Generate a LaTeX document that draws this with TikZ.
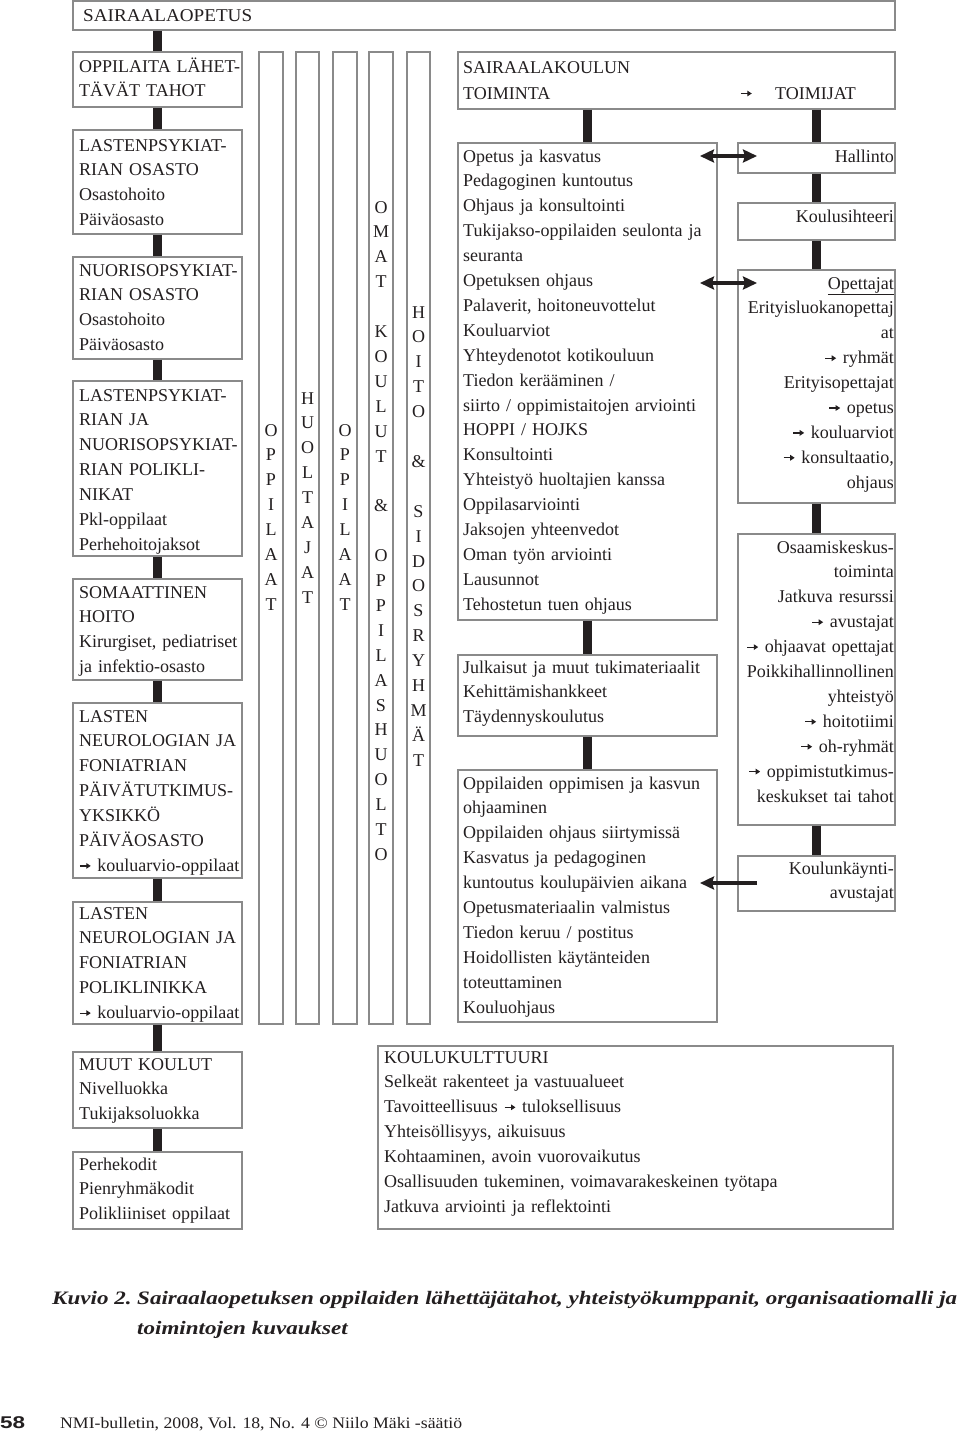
\documentclass[tikz,border=0pt]{standalone}
\usepackage{fontspec}
\setmainfont{Liberation Serif}
\newfontfamily\sansf{Liberation Sans}
\usetikzlibrary{arrows.meta,fit,calc}
\definecolor{bord}{HTML}{8A8A8A}
\definecolor{ink}{HTML}{231F20}
\newcommand\bodyfont{\fontsize{18}{24.9}\selectfont}
\newcommand\capfont{\fontsize{19}{19}\selectfont\bfseries\itshape}
\newcommand\rarr{\tikz[baseline=0pt]\draw[draw=ink,line width=1.2pt,-{Triangle[length=4.5pt,width=5.5pt]}](0pt,5.5pt)--(11pt,5.5pt);}
\newsavebox\capbox
\tikzset{
 boxst/.style={draw=bord, line width=1.1pt, inner sep=0pt},
 lt/.style={inner sep=0pt, text width=260pt, align=left, font=\bodyfont, text=ink, anchor=base west},
 rt/.style={inner sep=0pt, text width=200pt, align=right, font=\bodyfont, text=ink, anchor=base east},
 ct/.style={inner sep=0pt, text width=22pt, align=center, font=\bodyfont, text=ink, anchor=base},
 conn/.style={draw=ink, line width=8.5pt},
 dblarrow/.style={draw=ink, line width=4pt, {Stealth[length=14pt,width=13pt,inset=2pt]}-{Stealth[length=14pt,width=13pt,inset=2pt]}},
 onearrow/.style={draw=ink, line width=4pt, -{Stealth[length=14pt,width=13pt,inset=2pt]}},
}
\newcommand\mkbox[5]{\path (#2,#3) coordinate (#1-nw) (#4,#5) coordinate (#1-se); \node[boxst, fit=(#1-nw)(#1-se)] (#1) {};}
\begin{document}
\sbox\capbox{\capfont Sairaalaopetuksen oppilaiden lähettäjätahot, yhteistyökumppanit, organisaatiomalli ja}%
\begin{tikzpicture}[x=1pt,y=-1pt]
\fill[white] (0,0) rectangle (960,1438);
\useasboundingbox (0,0) rectangle (960,1438);
% boxes
\mkbox{top}{73}{1}{895}{30}
\mkbox{opp}{73}{52}{242}{107}
\mkbox{lp}{73}{130}{242}{234}
\mkbox{np}{73}{257}{242}{359}
\mkbox{lpn}{73}{381}{242}{556}
\mkbox{som}{73}{579}{242}{680}
\mkbox{lnp}{73}{703}{242}{878}
\mkbox{lnpk}{73}{902}{242}{1024}
\mkbox{muut}{73}{1052}{242}{1128}
\mkbox{perhe}{73}{1152}{242}{1229}
\mkbox{c1}{259}{52}{283}{1024}
\mkbox{c2}{296}{52}{319}{1024}
\mkbox{c3}{333}{52}{357}{1024}
\mkbox{c4}{369}{52}{393}{1024}
\mkbox{c5}{407}{52}{430}{1024}
\mkbox{sk}{458}{52}{895}{109}
\mkbox{op}{458}{143}{717}{620}
\mkbox{julk}{458}{655}{717}{736}
\mkbox{oppk}{458}{770}{717}{1022}
\mkbox{hall}{738}{143}{895}{173}
\mkbox{ks}{738}{203}{895}{240}
\mkbox{opet}{738}{270}{895}{503}
\mkbox{osa}{738}{534}{895}{825}
\mkbox{kka}{738}{856}{895}{911}
\mkbox{kk}{378}{1046}{893}{1229}
% connectors
\draw[conn] (top.south -| opp.north) -- (opp.north);
\draw[conn] (opp.south) -- (lp.north);
\draw[conn] (lp.south) -- (np.north);
\draw[conn] (np.south) -- (lpn.north);
\draw[conn] (lpn.south) -- (som.north);
\draw[conn] (som.south) -- (lnp.north);
\draw[conn] (lnp.south) -- (lnpk.north);
\draw[conn] (lnpk.south) -- (muut.north);
\draw[conn] (muut.south) -- (perhe.north);
\draw[conn] (sk.south -| op.north) -- (op.north);
\draw[conn] (op.south) -- (julk.north);
\draw[conn] (julk.south) -- (oppk.north);
\draw[conn] (sk.south -| hall.north) -- (hall.north);
\draw[conn] (hall.south) -- (ks.north);
\draw[conn] (ks.south) -- (opet.north);
\draw[conn] (opet.south) -- (osa.north);
\draw[conn] (osa.south) -- (kka.north);
% arrows
\coordinate (a1l) at (700,156); \coordinate (a1r) at (757,156);
\coordinate (a2l) at (700,283); \coordinate (a2r) at (757,283);
\coordinate (a3l) at (700,883); \coordinate (a3r) at (757,883);
\draw[dblarrow] (a1l) -- (a1r);
\draw[dblarrow] (a2l) -- (a2r);
\draw[onearrow] (a3r) -- (a3l);
% texts
\node[inner sep=0pt, anchor=base west, text=ink] (t-top) at (83,21) {\resizebox{169pt}{\height}{\bodyfont SAIRAALAOPETUS}};
\node[lt] (t-opp) at (79,72) {OPPILAITA LÄHET-\\TÄVÄT TAHOT};
\node[lt] (t-lp) at (79,151) {LASTENPSYKIAT-\\RIAN OSASTO\\Osastohoito\\Päiväosasto};
\node[lt] (t-np) at (79,276) {NUORISOPSYKIAT-\\RIAN OSASTO\\Osastohoito\\Päiväosasto};
\node[lt] (t-lpn) at (79,401) {LASTENPSYKIAT-\\RIAN JA\\NUORISOPSYKIAT-\\RIAN POLIKLI-\\NIKAT\\Pkl-oppilaat\\Perhehoitojaksot};
\node[lt] (t-som) at (79,598) {SOMAATTINEN\\HOITO\\Kirurgiset, pediatriset\\ja infektio-osasto};
\node[lt] (t-lnp) at (79,722) {LASTEN\\NEUROLOGIAN JA\\FONIATRIAN\\PÄIVÄTUTKIMUS-\\YKSIKKÖ\\PÄIVÄOSASTO\\\rarr\ kouluarvio-oppilaat};
\node[lt] (t-lnpk) at (79,919) {LASTEN\\NEUROLOGIAN JA\\FONIATRIAN\\POLIKLINIKKA\\\rarr\ kouluarvio-oppilaat};
\node[lt] (t-muut) at (79,1070) {MUUT KOULUT\\Nivelluokka\\Tukijaksoluokka};
\node[lt] (t-perhe) at (79,1170) {Perhekodit\\Pienryhmäkodit\\Polikliiniset oppilaat};
% vertical columns
\node[ct] (t-c1) at (c1.north |- 0,436) {O\\P\\P\\I\\L\\A\\A\\T};
\node[ct] (t-c2) at (c2.north |- 0,404) {H\\U\\O\\L\\T\\A\\J\\A\\T};
\node[ct] (t-c3) at (c3.north |- 0,436) {O\\P\\P\\I\\L\\A\\A\\T};
\node[ct] (t-c4) at (c4.north |- 0,213) {O\\M\\A\\T\\\mbox{}\\K\\O\\U\\L\\U\\T\\\mbox{}\\\&\\\mbox{}\\O\\P\\P\\I\\L\\A\\S\\H\\U\\O\\L\\T\\O};
\node[ct] (t-c5) at (c5.north |- 0,318) {H\\O\\I\\T\\O\\\mbox{}\\\&\\\mbox{}\\S\\I\\D\\O\\S\\R\\Y\\H\\M\\Ä\\T};
% middle
\node[lt] (t-sk1) at (463,73) {SAIRAALAKOULUN};
\node[lt] (t-sk2) at (463,99) {TOIMINTA};
\node[inner sep=0pt, anchor=base west] (t-skarr) at (740,99) {\rarr};
\node[lt] (t-sk3) at (775,99) {TOIMIJAT};
\node[lt] (t-op) at (463,162) {Opetus ja kasvatus\\Pedagoginen kuntoutus\\Ohjaus ja konsultointi\\Tukijakso-oppilaiden seulonta ja\\seuranta\\Opetuksen ohjaus\\Palaverit, hoitoneuvottelut\\Kouluarviot\\Yhteydenotot kotikouluun\\Tiedon kerääminen /\\siirto / oppimistaitojen arviointi\\HOPPI / HOJKS\\Konsultointi\\Yhteistyö huoltajien kanssa\\Oppilasarviointi\\Jaksojen yhteenvedot\\Oman työn arviointi\\Lausunnot\\Tehostetun tuen ohjaus};
\node[lt] (t-julk) at (463,673) {Julkaisut ja muut tukimateriaalit\\Kehittämishankkeet\\Täydennyskoulutus};
\node[lt] (t-oppk) at (463,789) {Oppilaiden oppimisen ja kasvun\\ohjaaminen\\Oppilaiden ohjaus siirtymissä\\Kasvatus ja pedagoginen\\kuntoutus koulupäivien aikana\\Opetusmateriaalin valmistus\\Tiedon keruu / postitus\\Hoidollisten käytänteiden\\toteuttaminen\\Kouluohjaus};
% right
\node[rt] (t-hall) at (894,162) {Hallinto};
\node[rt] (t-ks) at (894,222) {Koulusihteeri};
\node[rt] (t-opet) at (894,289) {\underline{Opettajat}\\Erityisluokanopettaj\\at\\\rarr\ ryhmät\\Erityisopettajat\\\rarr\ opetus\\\rarr\ kouluarviot\\\rarr\ konsultaatio,\\ohjaus};
\node[rt] (t-osa) at (894,553) {Osaamiskeskus-\\toiminta\\Jatkuva resurssi\\\rarr\ avustajat\\\rarr\ ohjaavat opettajat\\Poikkihallinnollinen\\yhteistyö\\\rarr\ hoitotiimi\\\rarr\ oh-ryhmät\\\rarr\ oppimistutkimus-\\keskukset tai tahot};
\node[rt] (t-kka) at (894,874) {Koulunkäynti-\\avustajat};
% bottom
\node[lt, text width=500pt] (t-kk) at (384,1063) {KOULUKULTTUURI\\Selkeät rakenteet ja vastuualueet\\Tavoitteellisuus \rarr\ tuloksellisuus\\Yhteisöllisyys, aikuisuus\\Kohtaaminen, avoin vuorovaikutus\\Osallisuuden tukeminen, voimavarakeskeinen työtapa\\Jatkuva arviointi ja reflektointi};
% caption
\pgfmathsetmacro\capscale{820/\the\wd\capbox}
\node[inner sep=0pt, anchor=base west, text=ink] (cap0) at (52,1304) {\scalebox{\capscale}[1]{\capfont Kuvio 2.}};
\node[inner sep=0pt, anchor=base west, text=ink] (cap1) at (137,1304) {\scalebox{\capscale}[1]{\capfont Sairaalaopetuksen oppilaiden lähettäjätahot, yhteistyökumppanit, organisaatiomalli ja}};
\node[inner sep=0pt, anchor=base west, text=ink] (cap2) at (137,1334) {\scalebox{\capscale}[1]{\capfont toimintojen kuvaukset}};
% footer
\node[inner sep=0pt, anchor=base west, text=ink] (pg) at (0,1428) {\resizebox{25pt}{\height}{\sansf\bfseries\fontsize{17}{17}\selectfont 58}};
\node[inner sep=0pt, anchor=base west, text=ink] (foot) at (60,1428) {\resizebox{402pt}{\height}{\fontsize{16}{16}\selectfont NMI-bulletin, 2008, Vol. 18, No. 4 © Niilo Mäki -säätiö}};
\end{tikzpicture}
\end{document}
